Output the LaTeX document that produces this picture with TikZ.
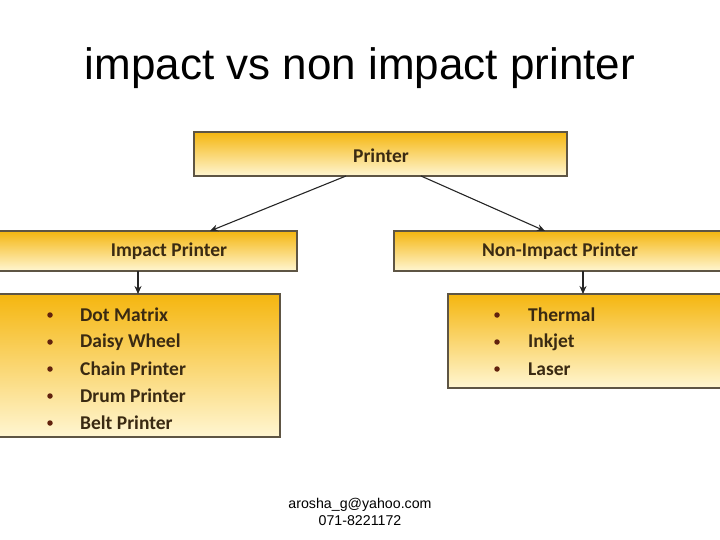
\documentclass[tikz,border=0pt]{standalone}
\usepackage{fontspec}
\setmainfont{Liberation Sans}
\newfontfamily\boxfont{Carlito}
\usetikzlibrary{arrows.meta}
\definecolor{boxtop}{HTML}{F5B60F}
\definecolor{boxbot}{HTML}{FFF6D2}
\definecolor{boxline}{HTML}{5E5544}
\definecolor{txt}{HTML}{3A2A12}
\tikzset{
  ybox/.style={draw=boxline, line width=1.3pt, top color=boxtop, bottom color=boxbot, middle color=boxtop!50!boxbot},
  boxtxt/.style={font=\boxfont\bfseries\fontsize{19.5}{22}\selectfont, text=txt},
  itemtxt/.style={font=\boxfont\bfseries\fontsize{19.5}{22}\selectfont, text=txt, anchor=west, inner sep=0pt},
  bul/.style={circle, fill=txt!80!red, inner sep=0pt, minimum size=5.5pt},
  conn/.style={draw=black!85, line width=1.1pt, -{Stealth[length=8pt,width=7pt]}}
}
\begin{document}
\begin{tikzpicture}[x=1pt,y=-1pt]
\useasboundingbox (0,0) rectangle (720,540);
\node[font=\fontsize{44}{50}\selectfont] (title) at (360,68) {impact vs non impact printer};
% boxes
\path[ybox] (194,132) rectangle (567,176);
\node[boxtxt] (printer) at (381,156) {Printer};
\path[ybox] (-2,231) rectangle (297,271);
\node[boxtxt] (impact) at (169,251) {Impact Printer};
\path[ybox] (394,231) rectangle (722,271);
\node[boxtxt] (nonimpact) at (560,251) {Non-Impact Printer};
\path[ybox] (-2,294) rectangle (280,437);
\path[ybox] (448,294) rectangle (722,388);
% anchor coordinates
\coordinate (p1) at (346,176);
\coordinate (p2) at (421,176);
\coordinate (i1) at (210,231);
\coordinate (n1) at (545,231);
\coordinate (i2) at (138,271);
\coordinate (i3) at (138,294);
\coordinate (n2) at (583,271);
\coordinate (n3) at (583,294);
\draw[conn] (p1) -- (i1);
\draw[conn] (p2) -- (n1);
\draw[conn] (i2) -- (i3);
\draw[conn] (n2) -- (n3);
% impact list
\foreach \t [count=\k] in {Dot Matrix, Daisy Wheel, Chain Printer, Drum Printer, Belt Printer}{
  \node[bul] (ib\k) at (50,{288+27*\k}) {};
  \node[itemtxt] (it\k) at (80,{288+27*\k}) {\t};
}
\foreach \t [count=\k] in {Thermal, Inkjet, Laser}{
  \node[bul] (nb\k) at (497,{288+27*\k}) {};
  \node[itemtxt] (nt\k) at (528,{288+27*\k}) {\t};
}
\node[font=\fontsize{14.2}{17}\selectfont, align=center] (foot) at (360,512) {arosha\_g@yahoo.com\\071-8221172};
\end{tikzpicture}
\end{document}
